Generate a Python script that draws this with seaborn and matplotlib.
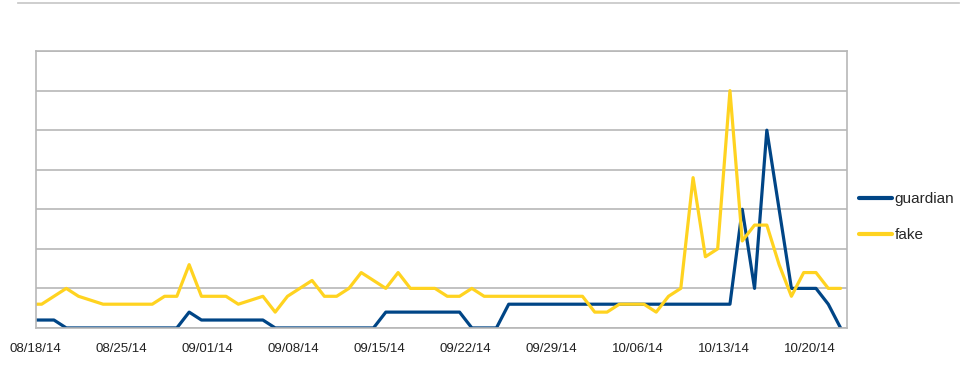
import pandas as pd
import seaborn as sns
import matplotlib.pyplot as plt
import matplotlib.dates as mdates
import numpy as np

# Daily counts, first value is 08/17/14 (clipped by the axis)
first_day = '2014-08-17 12:00'
guardian = [1, 1, 1, 0, 0, 0, 0, 0, 0, 0, 0, 0, 0, 2, 1, 1, 1, 1, 1, 1,
            0, 0, 0, 0, 0, 0, 0, 0, 0, 2, 2, 2, 2, 2, 2, 2, 0, 0, 0,
            3, 3, 3, 3, 3, 3, 3, 3, 3, 3, 3, 3, 3, 3, 3, 3, 3, 3, 3,
            15, 5, 25, 15, 5, 5, 5, 3, 0]
fake = [3, 3, 4, 5, 4, 3.5, 3, 3, 3, 3, 3, 4, 4, 8, 4, 4, 4, 3, 3.5, 4,
        2, 4, 5, 6, 4, 4, 5, 7, 6, 5, 7, 5, 5, 5, 4, 4, 5, 4,
        4, 4, 4, 4, 4, 4, 4, 4, 2, 2, 3, 3, 3, 2, 4, 5, 19, 9, 10, 30,
        11, 13, 13, 8, 4, 7, 7, 5, 5]
series_names = ['guardian', 'fake']
series_colors = ['#004586', '#ffd320']

dates = pd.date_range(first_day, periods=len(guardian), freq='D')
df = pd.DataFrame({'date': list(dates) * 2,
                   'count': guardian + fake,
                   'series': ['guardian'] * len(guardian) + ['fake'] * len(fake)})

sns.set_theme(style='white')
plt.rcParams['font.family'] = ['Liberation Sans', 'DejaVu Sans']

fig = plt.figure(figsize=(9.6, 3.84), dpi=100)
fig.patch.set_facecolor('white')
ax = fig.add_axes([0.037, 0.146, 0.845, 0.721])

sns.lineplot(data=df, x='date', y='count', hue='series', hue_order=series_names,
             palette=series_colors, linewidth=2.3, ax=ax, legend=True)

ax.set_ylim(0, 35)
ax.set_yticks(np.arange(0, 36, 5))
ax.set_yticklabels([])
ax.tick_params(axis='y', length=0)
ax.yaxis.grid(True, color='#b8b8b8', linewidth=1.2)
ax.set_axisbelow(True)

ax.set_xlim(pd.Timestamp('2014-08-18'), pd.Timestamp('2014-10-23'))
ticks = pd.date_range('2014-08-18', '2014-10-20', freq='7D')
ax.set_xticks(ticks)
ax.xaxis.set_major_formatter(mdates.DateFormatter('%m/%d/%y'))
ax.tick_params(axis='x', length=5, width=1, color='#b8b8b8', direction='out',
               labelsize=9.5, pad=6, labelcolor='#222222')
ax.set_xlabel('')
ax.set_ylabel('')
for s in ax.spines.values():
    s.set_color('#b8b8b8')
    s.set_linewidth(1.2)

leg = ax.legend(loc='center left', bbox_to_anchor=(0.998, 0.40), frameon=False,
                fontsize=11, handlelength=2.2, handletextpad=0.15, labelspacing=1.45)
for line in leg.get_lines():
    line.set_linewidth(3)

# strip of the chart above, cut off by the top edge
top = fig.add_axes([0.019, 0.992, 0.98, 0.001])
top.set_xlim(0, 1)
top.set_xticks(np.linspace(0.031, 0.97, 14))
top.set_xticklabels([])
top.set_yticks([])
for k in ['left', 'right', 'top']:
    top.spines[k].set_visible(False)
top.spines['bottom'].set_color('#c8c8c8')
top.tick_params(axis='x', length=4, color='#c8c8c8')

fig.savefig('out.png', dpi=100)
